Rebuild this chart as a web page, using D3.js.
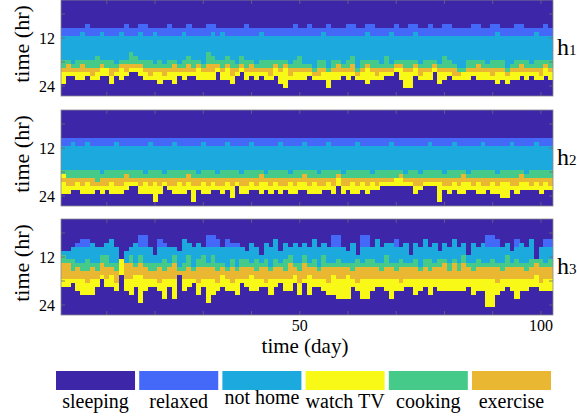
<!DOCTYPE html>
<html><head><meta charset="utf-8">
<script src="https://cdn.jsdelivr.net/npm/d3@7"></script>
<style>
body{margin:0;background:#fff}
svg{display:block}
text{font-family:"Liberation Serif","Times New Roman",serif;fill:#000}
</style>
</head><body>
<svg id="c" width="577" height="417"></svg>
<script>
// ---- data ----
const categories = ["sleeping","relaxed","not home","watch TV","cooking","exercise"];
const codes      = ["S","R","N","T","C","E"];
const colors     = ["#3e26a8","#4468f8","#1caade","#f8f916","#46ca89","#eab733"];
const dayTicks = [10,20,30,40,50,60,70,80,90,100];
const dayTickLabels = [50,100];
const hourTicks = [6,12,18,24];
const hourTickLabels = [12,24];
const panelNames = [["h","1"],["h","2"],["h","3"]];

// one run-length string per day: rows (hours) of each activity, rest of day = sleeping
const h1 = ["S7R2N6C2E1T3","S7R2N6C1E2T1","S7R2N7C1E1T1","S7R2N6C2E1T2","S7R1N7C1E2T2","S6R3N6C2E1T1","S7R2N6C2E2T1","S7R2N5C3E1T2","S7R1N7C1E1T2","S7R2N6C2T2",
"S7R2N6C2E2T2","S7R2N7C1E1T1","S7R1N7C1E1T3","S6R3N6C1E2T1","S7R2N4C3E1T1","S7R2N5C2E1T1","S6R2N7C1E1T2","S6R3N6C2E1T2","S7R2N6C2E2T1","S7R1N8C1E1T2",
"S7R2N6C2E1T3","S7R2N7C1E2T1","S6R3N6C2E1T2","S7R2N6C1E2T3","S7R2N7C1E1T1","S7R1N7C2E1T2","S6R3N5C2E2T1","S7R2N6C2E1T1","S7R2N6C1E1T3","S7R2N7C1E1T2",
"S6R3N4C3E2T2","S6R2N6C2E2T2","S7R2N6C1E1T1","S7R1N7C2E1T2","S7R2N5C2E1T3","S7R2N6C2E2T2","S7R2N7C1E1T1","S7R2N5C2E1T1","S6R3N6C2E1T2","S7R2N6C1E2T1",
"S7R2N7C1E1T2","S7R1N7C2E1T1","S7R2N6C2E1T2","S7R2N6C2E2T1","S7R2N6C1E1T2","S7R2N6C2E1T3","S7R2N6C1E1T5","S7R2N7C1E2T1","S6R3N6C2E1T2","S7R2N5C3E1T2",
"S7R2N7C1E1T2","S6R3N7C1E1T1","S7R2N8C1E1T1","S7R2N6C2E2T1","S7R1N7C2E1T2","S6R3N8C1T4","S7R2N6C2E1T2","S7R2N6C1E2T2","S7R2N7C1E1T1","S6R3N6C2E1T2",
"S6R3N5C2E2T1","S7R2N8C1E1T1","S7R2N6C2E1T2","S6R2N7C1E1T4","S6R3N6C2E1T2","S7R2N6C2E2T1","S7R2N7C1E1T2","S7R2N5C3E1T1","S7R1N8C1E1T1","S6R3N6C1E1T1",
"S7R2N6C1E1T3","S7R2N6C2E1T4","S6R3N6C2E1T4","S6R2N7C1E1T2","S7R2N7C1E2T1","S7R2N6C2E1T2","S6R3N6C2E1T2","S7R2N6C1E1T1","S7R2N7C1E1T3","S6R3N5C3E1T2",
"S6R3N6C2E1T1","S7R2N7C1E2T1","S7R2N8C1E1T1","S7R2N8C1T2","S7R2N6C2E1T2","S6R3N6C2E1T1","S6R3N6C1E2T2","S7R2N6C2E1T2","S7R2N7C1E1T2","S6R3N6C2E2T1",
"S6R2N7C2E1T3","S7R2N6C2E1T2","S7R2N8C1E1T2","S7R2N7C1E1T2","S6R3N6C2E1T2","S6R3N6C1E2T1","S7R2N6C2E1T2","S7R2N7C1E1T1","S7R1N7C2E1T2","S7R2N6C2E2T1",
"S6R3N6C1E1T2","S7R2N6C2E1T2"];

const h2 = ["S7R2N6C1T1E1T3","S7R2N6C2E2T2","S7R1N7C2E2T1","S7R2N6C2E1T2","S7R2N6C2E2T2","S7R1N7C2E1T3","S7R2N6C2E2T2","S7R2N6C3E1T1","S7R2N7C1E2T2","S7R2N6C2E2T1",
"S7R2N6C2E1T3","S7R1N7C2E2T2","S7R2N6C2E2T2","S7R2N6C1E2T2","S7R2N6C2E1T1","S7R2N6C2E1T1","S7R2N6C2E2T2","S7R2N7C1E1T3","S7R1N7C2E2T2","S7R2N6C2E1T5",
"S7R2N6C2E2T2","S7R2N7C1E1T1","S7R2N6C2E2T1","S7R1N7C2E2T2","S7R2N6C2E1T3","S7R2N6C2E2T2","S7R2N6C1E2T2","S7R2N6C2E2T4","S7R2N7C1E2T1","S7R1N7C2E1T3",
"S7R2N6C2E2T2","S7R2N6C2E1T2","S7R2N7C1E2T1","S7R2N6C2E2T2","S7R1N7C2E1T2","S7R2N6C2E2T3","S7R2N6C2E1T1","S7R2N7C1E2T2","S7R2N6C2E2T2","S7R1N7C2E1T2",
"S7R2N6C2E2T1","S7R2N6C1E2T3","S7R2N7C1E1T2","S7R2N6C2E2T2","S7R2N6C2E1T2","S7R1N7C2E2T2","S7R2N6C2E2T1","S7R2N7C1E1T3","S7R2N6C2E2T2","S7R2N6C2E1T2",
"S7R1N7C1E2T2","S7R2N6C2E2T2","S7R2N6C2E1T3","S7R2N7C1E2T2","S7R2N6C2E2T1","S7R1N7C2E1T2","S7R2N6C2E2T2","S7R2N6C1E1T2","S7R2N7C1E2T2","S7R2N6C2E2T1",
"S7R2N6C2E1T3","S7R1N7C2E2T2","S7R2N6C2E1T2","S7R2N6C2E2T2","S7R2N7C1E1T2","S7R2N6C2E2T1","S7R2N6C2E1T1","S7R2N6C2E1T1","S7R1N7C2E1T1","S7R2N6C2T2",
"S7R2N6C1E1T2","S7R2N7C1E1T1","S7R2N6C2E1T1","S7R2N6C2E2T2","S7R2N7C1E2T1","S7R2N6C2E1T1","S7R1N7C2E1T1","S7R2N6C2E1T1","S7R2N6C2E1T5","S7R2N7C1E2T1",
"S7R2N6C2E2T2","S7R1N7C2E1T2","S7R2N6C2E2T2","S7R2N6C1E2T3","S7R2N7C1E1T2","S7R2N6C2E2T1","S7R2N6C2E1T3","S7R1N7C2E2T2","S7R2N6C2E2T1","S7R2N6C2E1T3",
"S7R2N7C1E2T2","S7R2N6C2E1T4","S7R2N6C2E1T4","S7R1N7C2E2T1","S7R2N6C2E2T2","S7R2N6C1E2T2","S7R2N7C1E1T2","S7R2N6C2E2T1","S7R1N7C2E1T2","S7R2N6C2E2T2",
"S7R2N6C2E1T2","S7R2N6C2E2T1"];

const h3 = ["S8N1C2E4T2","S8N2C1E4T2","S7N3C3E2T1","S6R1N4C1E3T3","S5R2N4C2E2T4","S5R2N3C3E3T3","S6N5C1E3T4","S7N4C2E2T2","S7N2C2E3T1","S6N3C3E3T2",
"S5N6C1E2T3","S7N4C2E3T2","S10T4","S8N3E4T3","S7N2C2E4T4","S6N5C1E2T3","S4R3N2C2E3T7","S4R3N4C1E3T3","S7N4C2E2T2","S9N2C2E2T2",
"S5R2N4C1E4T2","S6R1N3C3E2T5","S7N4C1E3T2","S7N2C2E4T5","S8N4C1E1","S5N6C2E2T3","S6N3C3E3T2","S7N5C1E2T1","S6N4C2E4T3","S7N2C3E3T2",
"S4R3N4C1E3T6","S4R3N2C3E3T4","S5R2N4C2E3T2","S7N4C1E2T3","S5R2N5C1E2T3","S6R1N3C2E4T2","S6R1N5C1E2T4","S7N3C2E3T1","S8N2C2E3T2","S6N5C1E2T4",
"S7N3C3E2T3","S9N2C1E3T2","S6N4C2E4T1","S7N5C1E2T4","S5N5C2E3T2","S8N3C1E3T1","S6N4C3E2T3","S7N2C2E4T3","S6N5C1E2T2","S7N4C2E3T3",
"S6N3C2E4T1","S7N4C1E2T5","S5N5C2E3T2","S7N5C1E2T2","S6N3C3E3T3","S7N4C1E4T3","S4R3N4C1E2T5","S4R3N3C2E3T5","S7N4C1E3T5","S8N3C1E2T6",
"S6N5C2E2T2","S9N1C2E4T2","S4R3N4C1E3T5","S4R3N3C2E3T5","S7N3C2E3T3","S5N6C1E3T2","S7N4C2E2T2","S6N3C3E3T3","S6N5C1E3T5","S5R2N4C2E2T3",
"S7N3C2E4T2","S6N5C1E3T2","S9N2C1E3T2","S6N4C2E3T4","S7N5C1E2T3","S5N5C2E3T2","S7N3C3E2T4","S6N5C1E3T2","S8N2C2E3T3","S6N4C1E4T3",
"S7N4C2E2T3","S5N5C1E4T3","S7N4C2E2T3","S6N3C2E4T3","S9N2C1E3T2","S6N5C2E2T4","S7N3C2E3T3","S6N5C1E3T3","S4R3N4C1E3T7","S4R3N3C2E3T7",
"S5R2N4C1E4T3","S7N4C2E2T3","S6N3C3E3T2","S8N3C1E3T3","S5R2N3C2E3T5","S6N5C1E3T3","S7N4C2E2T3","S5N5C2E3T2","S10C1E3T3","S7N3C2E4T2",
"S5R2N4C1E3T3","S5R2N3C2E3T3"];

const panels = [h1, h2, h3];
const panelTops = [0, 110, 219];

// ---- drawing ----
const W = 577, H = 417, PH = 96;
const svg = d3.select("#c");
svg.append("rect").attr("width", W).attr("height", H).attr("fill", "#fff");

const x = d3.scaleLinear().domain([0.5, 102.5]).range([61, 553]);
const rowY = d3.scaleLinear().domain([0, 24]).range([0, PH]);
const hourY = d3.scaleLinear().domain([0, 24]).range([-10, 86]);
const color = d3.scaleOrdinal().domain(codes).range(colors);

function parse(s) {
  const segs = []; let r = 0;
  for (const m of s.matchAll(/([SRNTCE])(\d+)/g)) {
    const n = +m[2];
    const r1 = Math.min(24, r + n);
    segs.push({c: m[1], r0: r, r1: r1});
    r = r1;
  }
  if (r < 24) segs.push({c: "S", r0: r, r1: 24});
  return segs;
}

const defs = svg.append("defs");

panels.forEach((data, pi) => {
  const top = panelTops[pi];
  const g = svg.append("g").attr("transform", `translate(0,${top})`);
  defs.append("clipPath").attr("id", "clip" + pi)
    .append("rect").attr("x", x(0.5)).attr("y", 0).attr("width", x(102.5) - x(0.5)).attr("height", PH);
  const img = g.append("g").attr("clip-path", `url(#clip${pi})`).attr("shape-rendering", "crispEdges");
  img.append("rect").attr("x", x(0.5)).attr("y", 0).attr("width", x(102.5) - x(0.5)).attr("height", PH)
    .attr("fill", color("S"));
  const cols = data.map((s, i) => ({day: i + 1, segs: parse(s)}));
  img.selectAll("g.col").data(cols).join("g").attr("class", "col")
    .selectAll("rect").data(d => d.segs.filter(s => s.c !== "S").map(s => ({...s, day: d.day})))
    .join("rect")
    .attr("x", d => x(d.day - 0.5))
    .attr("width", d => x(d.day + 0.5) - x(d.day - 0.5) + 0.3)
    .attr("y", d => rowY(d.r0))
    .attr("height", d => rowY(d.r1) - rowY(d.r0))
    .attr("fill", d => color(d.c));

  // axes box
  g.append("rect").attr("x", x(0.5)).attr("y", 0).attr("width", x(102.5) - x(0.5)).attr("height", PH)
    .attr("fill", "none").attr("stroke", "#8a8a8a").attr("stroke-width", 0.8);

  const tk = g.append("g").attr("stroke", "#6a6a7a").attr("stroke-width", 0.8);
  dayTicks.forEach(d => {
    tk.append("line").attr("x1", x(d)).attr("x2", x(d)).attr("y1", 0).attr("y2", 4);
    tk.append("line").attr("x1", x(d)).attr("x2", x(d)).attr("y1", PH).attr("y2", PH - 4);
  });
  hourTicks.filter(h => hourY(h) > 0 && hourY(h) < PH).forEach(h => {
    tk.append("line").attr("x1", x(0.5)).attr("x2", x(0.5) + 4).attr("y1", hourY(h)).attr("y2", hourY(h));
    tk.append("line").attr("x1", x(102.5)).attr("x2", x(102.5) - 4).attr("y1", hourY(h)).attr("y2", hourY(h));
  });
  g.selectAll("text.yt").data(hourTickLabels).join("text").attr("class", "yt")
    .attr("x", 55).attr("y", d => hourY(d)).attr("dy", "0.35em")
    .attr("text-anchor", "end").attr("font-size", 16).text(d => d);
  g.append("text").attr("transform", `translate(29,${44}) rotate(-90)`)
    .attr("text-anchor", "middle").attr("font-size", 22).text("time (hr)");
  const nm = g.append("text").attr("x", 557).attr("y", 55).attr("font-size", 24);
  nm.append("tspan").text(panelNames[pi][0]);
  nm.append("tspan").attr("font-size", 15).text(panelNames[pi][1]);

  if (pi === 2) {
    g.selectAll("text.xt").data(dayTickLabels).join("text").attr("class", "xt")
      .attr("x", d => x(d)).attr("y", PH + 16).attr("text-anchor", "middle")
      .attr("font-size", 16).text(d => d);
    g.append("text").attr("x", 305).attr("y", PH + 38).attr("text-anchor", "middle")
      .attr("font-size", 21).text("time (day)");
  }
});

// legend
const lg = d3.scaleBand().domain(categories).range([56, 551]).paddingInner(0.05);
const leg = svg.append("g");
leg.selectAll("rect").data(categories).join("rect")
  .attr("x", d => lg(d)).attr("y", 371).attr("width", lg.bandwidth()).attr("height", 19)
  .attr("fill", (d, i) => colors[i]);
leg.selectAll("text").data(categories).join("text")
  .attr("x", d => lg(d) + lg.bandwidth() / 2)
  .attr("y", d => d === "not home" ? 404 : 408)
  .attr("text-anchor", "middle").attr("font-size", 20).text(d => d);
</script>
</body></html>
